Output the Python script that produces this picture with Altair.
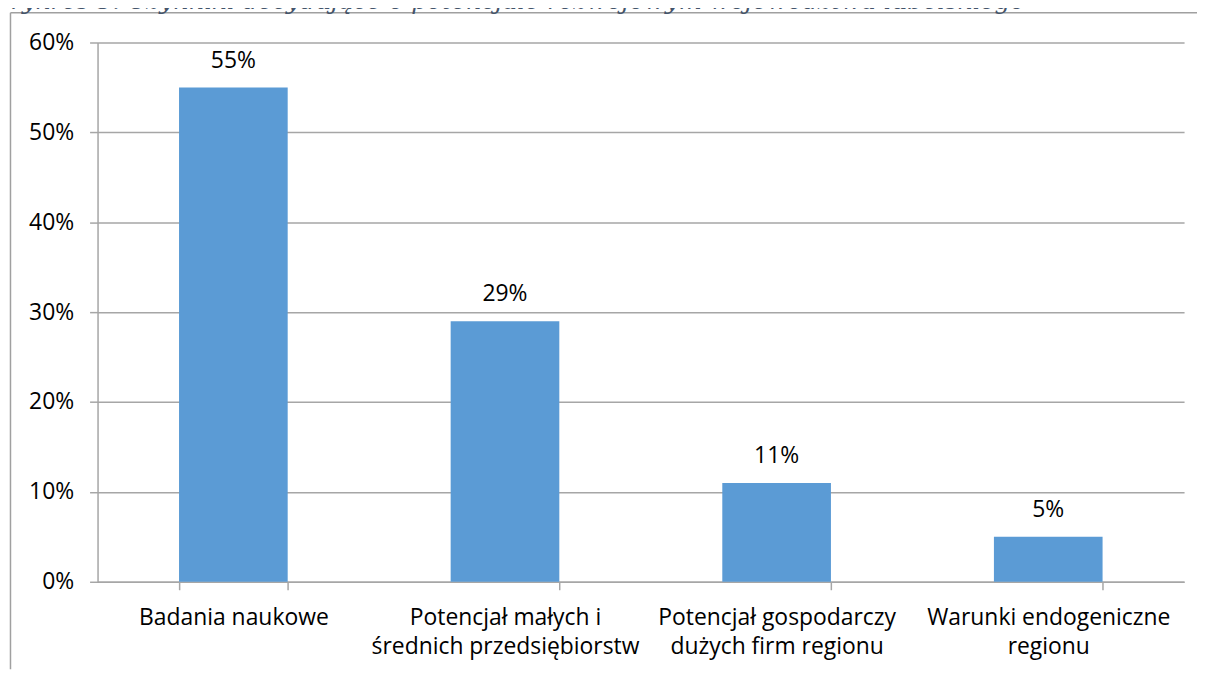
import altair as alt
import pandas as pd

categories = [
    "Badania naukowe",
    "Potencjał małych i\nśrednich przedsiębiorstw",
    "Potencjał gospodarczy\ndużych firm regionu",
    "Warunki endogeniczne\nregionu",
]
values = [0.55, 0.29, 0.11, 0.05]
value_labels = ["55%", "29%", "11%", "5%"]
y_ticks = [0, 0.1, 0.2, 0.3, 0.4, 0.5, 0.6]
title_text = "Wykres 3. Czynniki decydujące o potencjale rozwojowym województwa lubelskiego"

df = pd.DataFrame({"cat": categories, "val": values, "lbl": value_labels})
one = pd.DataFrame({"t": [title_text]})

FONT = "Open Sans"
GRAY = "#A6A6A6"
BAR = "#5B9BD5"

W, H = 1092, 542
PL, PT, PR, PB = 90, 33, 13, 88

x_enc = alt.X(
    "cat:N", sort=categories, title=None,
    scale=alt.Scale(paddingInner=0.6, paddingOuter=0.3),
    axis=alt.Axis(
        labelAngle=0, labelExpr="split(datum.label, '\\n')",
        labelFont=FONT, labelFontSize=23, labelColor="#000",
        labelLineHeight=29, labelPadding=17, labelLimit=500,
        labelBaseline="top",
        tickBand="extent", tickSize=8, tickColor=GRAY, tickWidth=1.5,
        domainColor=GRAY, domainWidth=1.5, grid=False,
    ),
)
y_enc = alt.Y(
    "val:Q", title=None,
    scale=alt.Scale(domain=[0, 0.6], nice=False, zero=True),
    axis=alt.Axis(
        values=y_ticks, format=".0%",
        labelFont=FONT, labelFontSize=23, labelColor="#000", labelPadding=16,
        tickSize=8, tickColor=GRAY, tickWidth=1.5,
        domainColor=GRAY, domainWidth=1.5,
        grid=True, gridColor=GRAY, gridWidth=1.5,
    ),
)

base = alt.Chart(df)
bars = base.mark_bar(color=BAR).encode(x=x_enc, y=y_enc)
texts = base.mark_text(
    dy=-20, baseline="alphabetic", font=FONT, fontSize=23, color="#000"
).encode(x=alt.X("cat:N", sort=categories), y="val:Q", text="lbl:N")

frame_left = alt.Chart(one).mark_rule(color="#A0A0A0", strokeWidth=1.5).encode(
    x=alt.value(-87.5), y=alt.value(-30), y2=alt.value(H + PB)
)
frame_top = alt.Chart(one).mark_rule(color="#A0A0A0", strokeWidth=1.5).encode(
    x=alt.value(-87.5), x2=alt.value(W + PR), y=alt.value(-30)
)
title = alt.Chart(one).mark_text(
    align="right", baseline="alphabetic", font="DejaVu Serif",
    fontStyle="italic", fontSize=24.5, color="#44546A"
).encode(x=alt.value(932), y=alt.value(-33.5), text="t:N")

chart = (
    alt.layer(bars, texts, frame_left, frame_top, title)
    .properties(
        width=W, height=H,
        autosize=alt.AutoSizeParams(type="none"),
        padding={"left": PL, "top": PT, "right": PR, "bottom": PB},
        background="white",
    )
    .configure_view(stroke=None)
)

chart.save("out.html", embed_options={"renderer": "svg", "actions": False})
